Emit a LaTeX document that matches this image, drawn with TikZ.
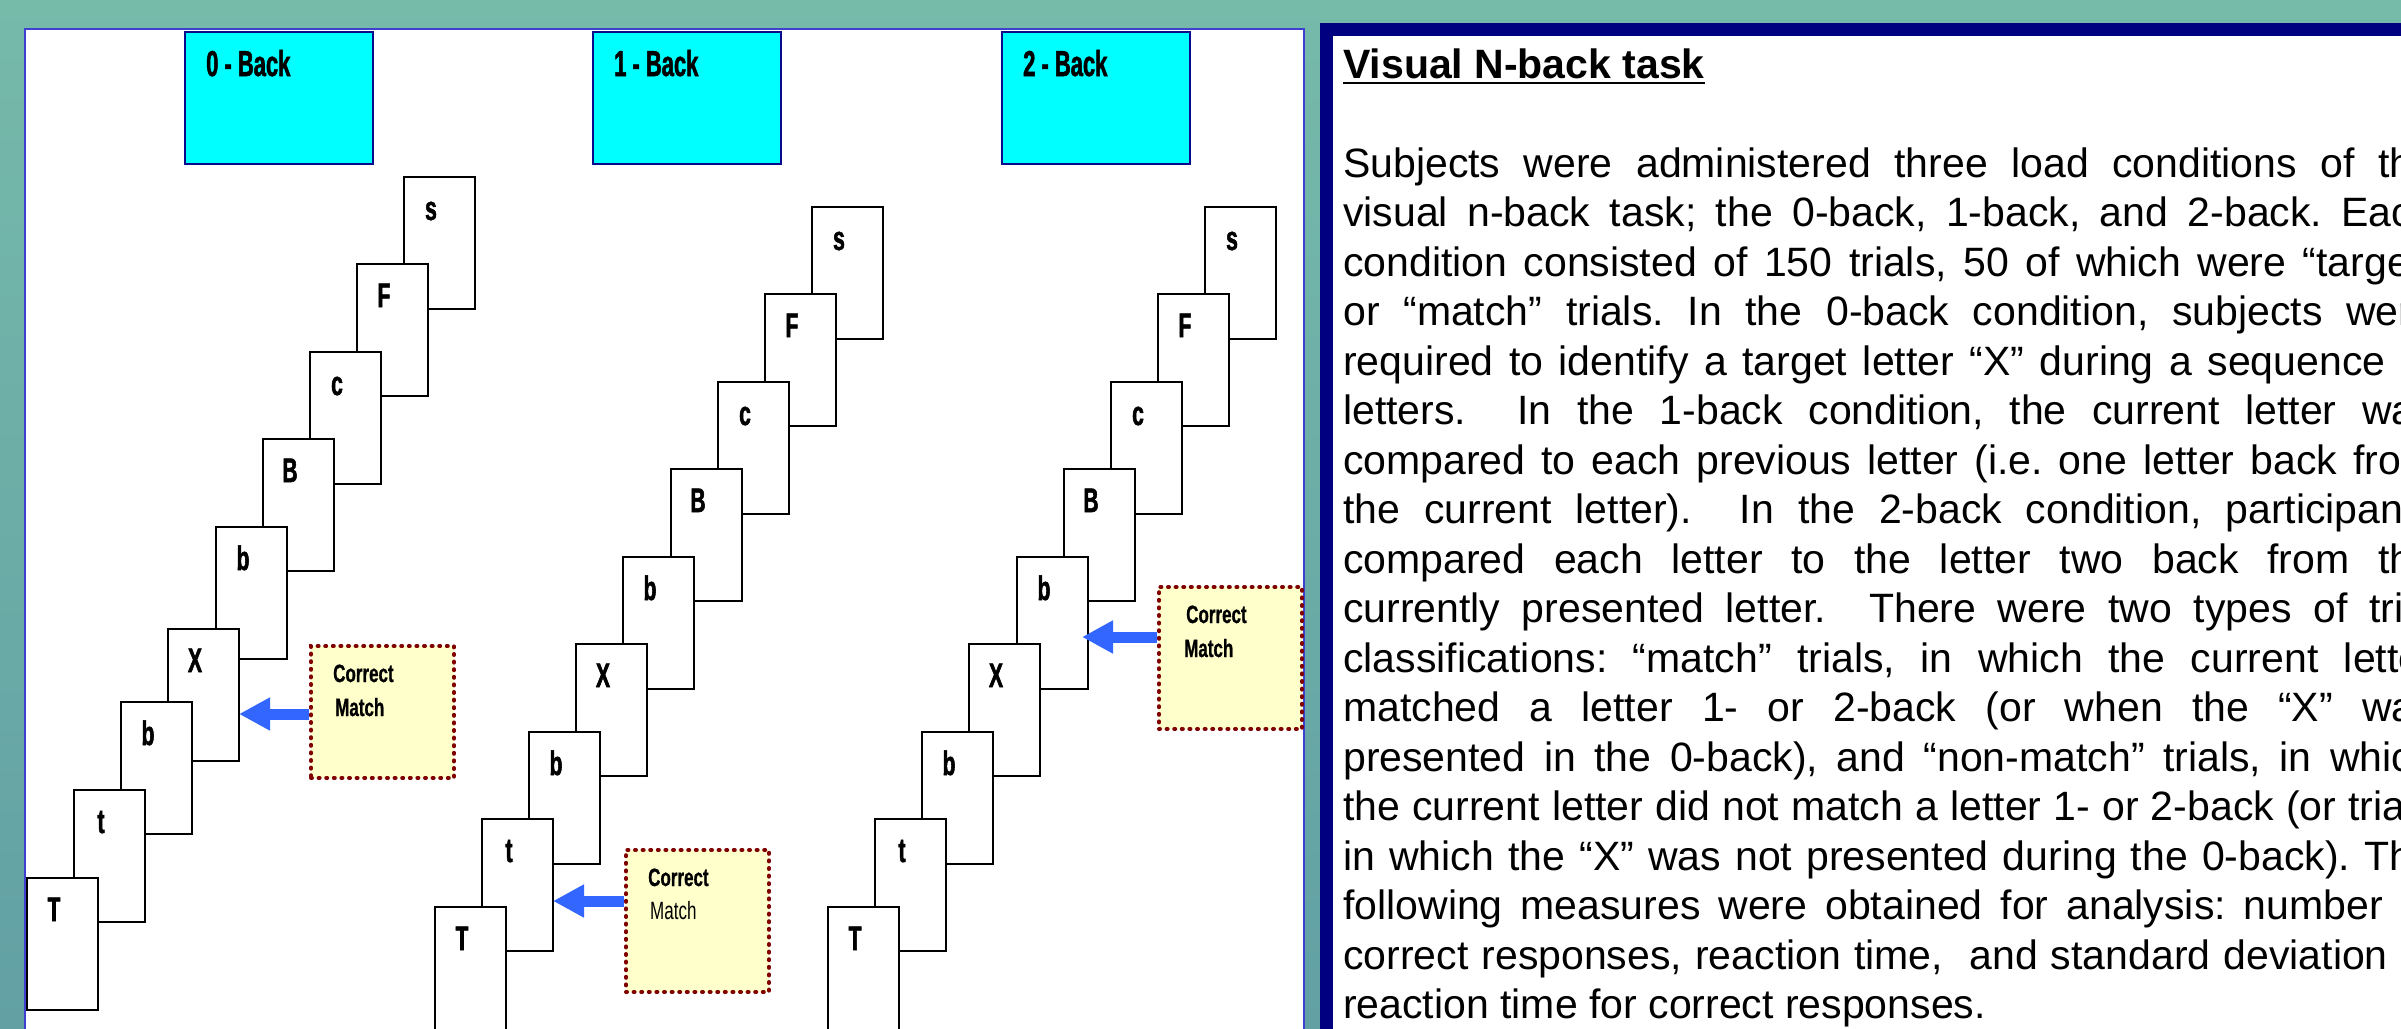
\documentclass[tikz,border=0pt]{standalone}
\usepackage{fontspec}
\setmainfont{Liberation Sans}
\newfontfamily\cardfont[FakeStretch=0.62,FakeBold=1.6]{Liberation Sans}
\newfontfamily\headfont[FakeStretch=0.61,FakeBold=1.4]{Liberation Sans}
\newfontfamily\cmfont[FakeStretch=0.68,FakeBold=0.8]{Liberation Sans}
\newfontfamily\cmlightfont[FakeStretch=0.68]{Liberation Sans}
\usetikzlibrary{arrows.meta,calc}
\definecolor{tealtop}{RGB}{118,186,170}
\definecolor{tealbot}{RGB}{98,160,164}
\definecolor{panelblue}{RGB}{64,64,208}
\definecolor{navyframe}{RGB}{0,0,128}
\definecolor{cyanbox}{RGB}{0,255,255}
\definecolor{hdrborder}{RGB}{10,10,140}
\definecolor{dotred}{RGB}{128,0,0}
\definecolor{cmfill}{RGB}{255,255,204}
\definecolor{arrowblue}{RGB}{51,102,255}
\begin{document}
\begin{tikzpicture}[x=1pt,y=-1pt,
  cardbox/.style={draw=black,line width=1.8pt,fill=white,minimum width=71pt,minimum height=132pt,anchor=north west,inner sep=0pt,outer sep=0pt},
  cardletter/.style={anchor=base,inner sep=0pt,font=\cardfont\bfseries\fontsize{34}{34}\selectfont},
  hdrbox/.style={draw=hdrborder,line width=2pt,fill=cyanbox,minimum width=188pt,minimum height=132pt,anchor=north west,inner sep=0pt},
  hdrtext/.style={anchor=base west,inner sep=0pt,font=\headfont\bfseries\fontsize{36}{36}\selectfont},
  cmbox/.style={draw=dotred,line width=4pt,line cap=round,dash pattern=on 1pt off 6.6pt,fill=cmfill,minimum width=143pt,anchor=north west,inner sep=0pt},
  cmtext/.style={anchor=base west,inner sep=0pt,font=\cmfont\bfseries\fontsize{25}{25}\selectfont},
  cmtextlight/.style={anchor=base west,inner sep=0pt,font=\cmlightfont\fontsize{25}{25}\selectfont},
  arr/.style={draw=arrowblue,line width=11pt,-{Triangle[length=31pt,width=31pt]}},
  body/.style={anchor=base west,inner sep=0pt,font=\fontsize{41}{49.5}\selectfont\frenchspacing},
]
\useasboundingbox (0,0) rectangle (2401,1028);
\clip (0,0) rectangle (2401,1028);
% background
\shade[top color=tealtop,bottom color=tealbot] (0,0) rectangle (2401,1028);
% left white panel
\draw[fill=white,draw=panelblue,line width=2pt] (25,29) rectangle (1304,1060);
% right text frame
\fill[navyframe] (1320,23) rectangle (2440,1060);
\fill[white] (1333,36) rectangle (2440,1060);

% header boxes
\node[hdrbox] (h0) at (184,31) {};
\node[hdrbox] (h1) at (592,31) {};
\node[hdrbox] (h2) at (1001,31) {};
\node[hdrtext] (h0t) at ($(h0.north west)+(22,45)$) {0 - Back};
\node[hdrtext] (h1t) at ($(h1.north west)+(22,45)$) {1 - Back};
\node[hdrtext] (h2t) at ($(h2.north west)+(22,45)$) {2 - Back};

% 0-back cards
\foreach \nm/\x/\y/\l in {a9/404/177/s,a8/357/264/F,a7/310/352/c,a6/263/439/B,a5/216/527/b,a4/168/629/X,a3/121/702/b,a2/74/790/t,a1/27/878/T}{
  \node[cardbox] (\nm) at (\x,\y) {};
  \node[cardletter] (\nm-l) at ($(\nm.north west)+(27,43)$) {\l};
}
% 1-back cards
\foreach \nm/\x/\y/\l in {b9/812/207/s,b8/765/294/F,b7/718/382/c,b6/671/469/B,b5/623/557/b,b4/576/644/X,b3/529/732/b,b2/482/819/t,b1/435/907/T}{
  \node[cardbox] (\nm) at (\x,\y) {};
  \node[cardletter] (\nm-l) at ($(\nm.north west)+(27,43)$) {\l};
}
% 2-back cards
\foreach \nm/\x/\y/\l in {c9/1205/207/s,c8/1158/294/F,c7/1111/382/c,c6/1064/469/B,c5/1017/557/b,c4/969/644/X,c3/922/732/b,c2/875/819/t,c1/828/907/T}{
  \node[cardbox] (\nm) at (\x,\y) {};
  \node[cardletter] (\nm-l) at ($(\nm.north west)+(27,43)$) {\l};
}

% anchor points of the Correct Match boxes and the arrows
\path (309,644) coordinate (cm0nw);
\path (624,848) coordinate (cm1nw);
\path (1157,585) coordinate (cm2nw);
\coordinate (cm0a) at ($(cm0nw)+(0,70)$);
\coordinate (cm1a) at ($(cm1nw)+(0,53)$);
\coordinate (cm2a) at ($(cm2nw)+(0,52)$);
\path (cm0a -| a4.east) coordinate (tip0);
\path (cm1a -| b2.east) coordinate (tip1);
\path (cm2a -| c5.east) coordinate (tip2);
\draw[arr] (cm0a) -- (tip0);
\draw[arr] (cm1a) -- (tip1);
\draw[arr] (cm2a) -- ([xshift=-6pt]tip2);

\node[cmbox,minimum height=132pt] (cm0) at (cm0nw) {};
\node[cmbox,minimum height=142pt] (cm1) at (cm1nw) {};
\node[cmbox,minimum height=142pt] (cm2) at (cm2nw) {};
\node[cmtext] (cm0c) at ($(cm0.north west)+(24,38)$) {Correct};
\node[cmtext] (cm0m) at ($(cm0.north west)+(26,72)$) {Match};
\node[cmtext] (cm1c) at ($(cm1.north west)+(24,38)$) {Correct};
\node[cmtextlight] (cm1m) at ($(cm1.north west)+(26,71)$) {Match};
\node[cmtext] (cm2c) at ($(cm2.north west)+(29,38)$) {Correct};
\node[cmtext] (cm2m) at ($(cm2.north west)+(27,72)$) {Match};

% text panel
\node[anchor=base west,inner sep=0pt,font=\bfseries\fontsize{41}{49.5}\selectfont] (title) at (1343,78) {Visual N-back task};
\draw[line width=2.3pt] ($(title.base west)+(0,5)$) -- ($(title.base east)+(0,5)$);

\node[body] (t1) at (1343,177) {\makebox[1092pt][s]{Subjects were administered three load conditions of the}};
\node[body] (t2) at (1343,226.5) {\makebox[1092pt][s]{visual n-back task; the 0-back, 1-back, and 2-back. Each}};
\node[body] (t3) at (1343,276) {\makebox[1092pt][s]{condition consisted of 150 trials, 50 of which were “target”}};
\node[body] (t4) at (1343,325.5) {\makebox[1092pt][s]{or “match” trials. In the 0-back condition, subjects were}};
\node[body] (t5) at (1343,375) {\makebox[1092pt][s]{required to identify a target letter “X” during a sequence of}};
\node[body] (t6) at (1343,424.5) {\makebox[1092pt][s]{letters.\ \ In the 1-back condition, the current letter was}};
\node[body] (t7) at (1343,474) {\makebox[1092pt][s]{compared to each previous letter (i.e. one letter back from}};
\node[body] (t8) at (1343,523.5) {\makebox[1092pt][s]{the current letter).\ \ In the 2-back condition, participants}};
\node[body] (t9) at (1343,573) {\makebox[1092pt][s]{compared each letter to the letter two back from the}};
\node[body] (t10) at (1343,622.5) {\makebox[1092pt][s]{currently presented letter.\ \ There were two types of trial}};
\node[body] (t11) at (1343,672) {\makebox[1092pt][s]{classifications: “match” trials, in which the current letter}};
\node[body] (t12) at (1343,721.5) {\makebox[1092pt][s]{matched a letter 1- or 2-back (or when the “X” was}};
\node[body] (t13) at (1343,771) {\makebox[1092pt][s]{presented in the 0-back), and “non-match” trials, in which}};
\node[body] (t14) at (1343,820.5) {\makebox[1092pt][s]{the current letter did not match a letter 1- or 2-back (or trials}};
\node[body] (t15) at (1343,870) {\makebox[1092pt][s]{in which the “X” was not presented during the 0-back). The}};
\node[body] (t16) at (1343,919.5) {\makebox[1092pt][s]{following measures were obtained for analysis: number of}};
\node[body] (t17) at (1343,969) {\makebox[1092pt][s]{correct responses, reaction time,\ \ and standard deviation of}};
\node[body] (t18) at (1343,1018.5) {reaction time for correct responses.};
\end{tikzpicture}
\end{document}
